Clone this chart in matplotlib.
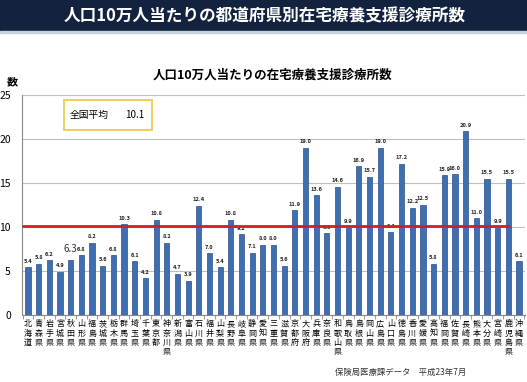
import matplotlib.pyplot as plt
from matplotlib.patches import Rectangle

plt.rcParams['font.family'] = ['Noto Sans CJK JP', 'DejaVu Sans']

prefs = ['北海道', '青森県', '岩手県', '宮城県', '秋田県', '山形県', '福島県', '茨城県',
         '栃木県', '群馬県', '埼玉県', '千葉県', '東京都', '神奈川県', '新潟県', '富山県',
         '石川県', '福井県', '山梨県', '長野県', '岐阜県', '静岡県', '愛知県', '三重県',
         '滋賀県', '京都府', '大阪府', '兵庫県', '奈良県', '和歌山県', '鳥取県', '島根県',
         '岡山県', '広島県', '山口県', '徳島県', '香川県', '愛媛県', '高知県', '福岡県',
         '佐賀県', '長崎県', '熊本県', '大分県', '宮崎県', '鹿児島県', '沖縄県']
values = [5.4, 5.8, 6.2, 4.9, 6.3, 6.8, 8.2, 5.6, 6.8, 10.3, 6.1, 4.2, 10.8, 8.2,
          4.7, 3.9, 12.4, 7.0, 5.4, 10.8, 9.2, 7.1, 8.0, 8.0, 5.6, 11.9, 19.0, 13.6,
          9.3, 14.6, 9.9, 16.9, 15.7, 19.0, 9.4, 17.2, 12.2, 12.5, 5.8, 15.9, 16.0,
          20.9, 11.0, 15.5, 9.9, 15.5, 6.1]
national_avg = 10.1

fig = plt.figure(figsize=(5.27, 3.82), dpi=100)

# top banner
fig.patches.append(Rectangle((0, 1 - 31 / 382), 1, 31 / 382, transform=fig.transFigure,
                             color='#13233f', zorder=0))
fig.patches.append(Rectangle((0, 1 - 33 / 382), 1, 2 / 382, transform=fig.transFigure,
                             color='#c5d3e0', zorder=0))
fig.text(0.503, 1 - 16 / 382, '人口10万人当たりの都道府県別在宅療養支援診療所数',
         color='white', fontsize=12, fontweight='bold', ha='center', va='center')

ax = fig.add_axes([22 / 527, 1 - 315 / 382, 503 / 527, 220 / 382])
x = list(range(len(prefs)))
ax.bar(x, values, width=0.48, color='#3f6fb3', edgecolor='#2b4f86', linewidth=0.5, zorder=3)

for i, v in enumerate(values):
    if prefs[i] == '秋田県':
        ax.text(i, v + 0.6, '%.1f' % v, ha='center', va='bottom', fontsize=7,
                color='#333333', zorder=4)
    else:
        ax.text(i, v + 0.4, '%.1f' % v, ha='center', va='bottom', fontsize=4.1,
                fontweight='bold', color='#222222', zorder=4)

ax.hlines(national_avg, -0.6, 45.2, color='#d01f26', linewidth=2, zorder=5)

ax.set_xlim(-0.56, len(prefs) - 0.44)
ax.set_ylim(0, 25)
ax.set_yticks([0, 5, 10, 15, 20, 25])
ax.yaxis.grid(True, color='#bfbfbf', linewidth=0.8, zorder=0)
ax.tick_params(axis='y', length=0, labelsize=7.5, pad=8)
for s in ['top', 'right']:
    ax.spines[s].set_visible(False)
ax.spines['left'].set_color('#888888')
ax.spines['bottom'].set_color('#888888')

ax.set_xticks(x)
ax.set_xticklabels(['\n'.join(p) for p in prefs], fontsize=5.8, linespacing=1.05,
                   va='top')
ax.set_xticks([i + 0.5 for i in range(-1, len(prefs))], minor=True)
ax.tick_params(axis='x', which='major', length=0, pad=3)
ax.tick_params(axis='x', which='minor', length=3, color='#888888', direction='out')

fig.text(7 / 527, 1 - 82 / 382, '数', fontsize=8, fontweight='bold', ha='left', va='center')
fig.text(272 / 527, 1 - 75 / 382, '人口10万人当たりの在宅療養支援診療所数',
         fontsize=9, fontweight='bold', ha='center', va='center')

# national average box
fig.patches.append(Rectangle((64 / 527, 1 - 130 / 382), 88 / 527, 30 / 382,
                             transform=fig.transFigure, facecolor='white',
                             edgecolor='#f0c63c', linewidth=1.2, zorder=6))
fig.text(70 / 527, 1 - 115 / 382, '全国平均', fontsize=7, ha='left', va='center', zorder=7)
fig.text(125 / 527, 1 - 115 / 382, '10.1', fontsize=7, ha='left', va='center', zorder=7)

fig.text(335 / 527, 1 - 372 / 382, '保険局医療課データ　平成23年7月', fontsize=6,
         ha='left', va='center', color='#333333')

plt.savefig('out.png', dpi=100)
